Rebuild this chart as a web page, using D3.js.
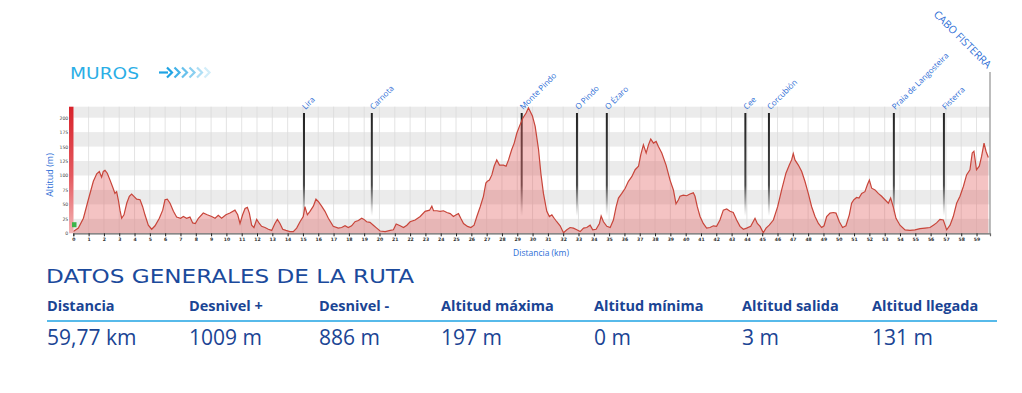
<!DOCTYPE html>
<html><head><meta charset="utf-8">
<script src="https://cdn.jsdelivr.net/npm/d3@7"></script>
<style>html,body{margin:0;padding:0;background:#fff;overflow:hidden}</style>
</head><body>
<svg id="chart" width="1022" height="393"></svg>
<script>
// ---- data ----
const distKm = [0,0.33,0.66,0.98,1.31,1.53,1.7,1.85,1.96,2.07,2.22,2.4,2.57,2.72,2.83,2.94,3.05,3.16,3.31,3.49,3.66,3.81,3.96,4.14,4.36,4.53,4.68,4.9,5.12,5.34,5.62,5.84,5.99,6.14,6.32,6.54,6.75,7.01,7.19,7.4,7.62,7.8,7.97,8.17,8.49,8.75,9.04,9.26,9.47,9.69,9.97,10.23,10.56,10.74,10.89,11.06,11.22,11.37,11.5,11.65,11.8,11.98,12.15,12.3,12.52,12.74,12.96,13.17,13.33,13.5,13.68,13.89,14.15,14.37,14.59,14.81,15.02,15.13,15.29,15.46,15.68,15.85,16.0,16.22,16.44,16.66,16.98,17.31,17.53,17.75,17.96,18.18,18.4,18.62,18.84,18.99,19.16,19.38,19.6,19.82,20.04,20.37,20.7,20.91,21.09,21.35,21.57,21.79,22.0,22.33,22.66,22.98,23.27,23.42,23.53,23.75,23.96,24.18,24.4,24.62,24.83,25.01,25.16,25.31,25.49,25.75,25.97,26.18,26.36,26.58,26.79,26.95,27.05,27.18,27.34,27.49,27.66,27.84,28.1,28.27,28.43,28.64,28.8,28.97,29.14,29.36,29.58,29.73,29.84,29.99,30.17,30.39,30.54,30.71,30.93,31.1,31.26,31.41,31.58,31.8,32.02,32.24,32.45,32.67,32.89,33.11,33.33,33.54,33.76,33.93,34.15,34.37,34.48,34.63,34.85,35.07,35.28,35.46,35.61,35.83,36.05,36.26,36.48,36.7,36.92,37.07,37.24,37.42,37.57,37.72,37.9,38.07,38.22,38.44,38.72,38.98,39.2,39.37,39.53,39.63,39.85,40.07,40.28,40.5,40.61,40.76,40.94,41.15,41.37,41.59,41.81,42.02,42.24,42.46,42.68,42.9,43.11,43.33,43.55,43.77,43.98,44.25,44.53,44.68,44.86,45.07,45.25,45.46,45.73,46.01,46.27,46.55,46.77,46.92,47.03,47.14,47.36,47.58,47.79,48.01,48.23,48.45,48.67,48.88,49.04,49.21,49.43,49.65,49.82,50.04,50.25,50.47,50.69,50.84,50.99,51.17,51.32,51.5,51.71,51.87,52.0,52.15,52.37,52.58,52.8,53.02,53.24,53.39,53.56,53.74,54.0,54.33,54.65,54.98,55.31,55.63,55.96,56.18,56.39,56.61,56.83,57.05,57.27,57.48,57.7,57.92,58.14,58.35,58.57,58.72,58.83,59.0,59.18,59.33,59.49,59.62,59.77];
const altM = [3,9,26,58,90,103,107,97,107,109,104,92,80,69,72,58,40,26,32,52,64,68,64,59,58,46,32,14,7,13,26,40,58,59,52,38,28,26,29,26,28,18,17,26,35,32,29,26,31,26,32,35,40,32,17,32,43,45,35,14,10,24,17,12,10,7,5,17,24,17,7,5,3,3,9,20,29,46,32,38,47,59,55,47,38,26,12,9,10,13,10,13,20,22,26,24,20,19,14,9,4,3,5,6,16,13,10,14,20,23,29,38,40,47,39,39,38,39,36,34,29,32,34,26,17,12,10,14,29,46,64,87,90,92,101,116,127,118,118,116,127,145,156,173,185,199,208,217,211,203,185,145,104,69,38,29,32,26,20,13,1,6,10,9,6,3,9,10,14,6,7,17,30,20,12,10,23,46,61,69,78,90,98,110,116,136,153,139,153,163,156,159,150,139,118,92,75,51,58,64,66,65,68,70,64,46,29,17,9,10,13,12,23,40,42,38,36,23,12,7,9,12,26,17,12,1,9,14,23,46,75,104,118,127,138,127,118,107,90,69,46,29,17,10,13,29,35,36,35,20,10,13,32,52,58,62,61,69,72,84,92,78,75,69,64,58,52,61,46,26,14,6,5,6,8,9,10,14,18,24,23,6,14,29,52,64,81,101,110,139,142,110,116,133,156,142,131];
const placeNames = ["Lira","Carnota","Monte Pindo","O Pindo","O Ézaro","Cee","Corcubión","Praia de Langosteira","Fisterra"];
const placeKm = [15.07,19.5,29.29,32.9,34.85,43.9,45.44,53.6,56.87];
const finishName = "CABO FISTERRA";
const yTicks = [0,25,50,75,100,125,150,175,200];
const xTicks = d3.range(0,60,1);
const statLabels = ["Distancia","Desnivel +","Desnivel -","Altitud máxima","Altitud mínima","Altitud salida","Altitud llegada"];
const statValues = ["59,77 km","1009 m","886 m","197 m","0 m","3 m","131 m"];

// ---- layout ----
const svg = d3.select("#chart");
const pL = 73.3, pR = 990, pT = 106.7, pB = 233.3;
const x = d3.scaleLinear().domain([0, 59.88]).range([pL, pR]);
const y = d3.scaleLinear().domain([0, 219]).range([pB, pT]);
const data = distKm.map((d,i)=>({km:d, alt:altM[i]}));

const defs = svg.append("defs");
const gBar = defs.append("linearGradient").attr("id","redbar").attr("x1",0).attr("y1",0).attr("x2",0).attr("y2",1);
gBar.append("stop").attr("offset","0%").attr("stop-color","#d8222b");
gBar.append("stop").attr("offset","55%").attr("stop-color","#e45a60");
gBar.append("stop").attr("offset","100%").attr("stop-color","#f3b5b5");
const gLine = defs.append("linearGradient").attr("id","mk").attr("gradientUnits","userSpaceOnUse")
  .attr("x1",0).attr("y1",113).attr("x2",0).attr("y2",216);
gLine.append("stop").attr("offset","0%").attr("stop-color","#222").attr("stop-opacity",1);
gLine.append("stop").attr("offset","70%").attr("stop-color","#333").attr("stop-opacity",0.9);
gLine.append("stop").attr("offset","100%").attr("stop-color","#555").attr("stop-opacity",0);

// bands
const bandStarts = [0,50,100,150,200];
svg.append("g").selectAll("rect").data(bandStarts).join("rect")
  .attr("x", pL).attr("width", pR-pL)
  .attr("y", d=>y(Math.min(d+25,219))).attr("height", d=>y(d)-y(Math.min(d+25,219)))
  .attr("fill","#ebebeb");
// vertical grid
svg.append("g").selectAll("line").data(xTicks.slice(1)).join("line")
  .attr("x1",d=>x(d)).attr("x2",d=>x(d)).attr("y1",pT).attr("y2",pB)
  .attr("stroke","#dcdcdc").attr("stroke-width",0.8);

// marker lines (under area)
svg.append("g").selectAll("line").data(placeKm).join("line")
  .attr("x1",d=>x(d)).attr("x2",d=>x(d)).attr("y1",113).attr("y2",216)
  .attr("stroke","url(#mk)").attr("stroke-width",2);

// area + line
const area = d3.area().x(d=>x(d.km)).y0(pB).y1(d=>y(d.alt)).curve(d3.curveLinear);
svg.append("path").datum(data).attr("d",area).attr("fill","rgba(225,90,90,0.36)");
svg.append("path").datum(data).attr("d",d3.line().x(d=>x(d.km)).y(d=>y(d.alt)))
  .attr("fill","none").attr("stroke","#c8453a").attr("stroke-width",1.2);

// finish line
svg.append("line").attr("x1",pR).attr("x2",pR).attr("y1",72).attr("y2",pB)
  .attr("stroke","#9a9a9a").attr("stroke-width",1.3);

// left red bar + start marker
svg.append("rect").attr("x",69).attr("y",pT).attr("width",4.5).attr("height",pB-pT).attr("fill","url(#redbar)");
svg.append("rect").attr("x",72).attr("y",y(14)-3).attr("width",4.5).attr("height",5).attr("fill","#3cb44a");

// x axis
const xAxis = d3.axisBottom(x).tickValues(xTicks).tickSize(3).tickPadding(1).tickFormat(d3.format("d"));
const gx = svg.append("g").attr("transform",`translate(0,${pB})`).call(xAxis);
gx.select(".domain").attr("stroke","#666").attr("stroke-width",1.2);
gx.selectAll(".tick line").attr("stroke","#222");
gx.selectAll("text").attr("font-family","DejaVu Sans").attr("font-size",4.6).attr("font-weight","bold").attr("fill","#333");

// y axis
const yAxis = d3.axisLeft(y).tickValues(yTicks).tickSize(0).tickPadding(5);
const gy = svg.append("g").attr("transform",`translate(${pL},0)`).call(yAxis);
gy.select(".domain").remove();
gy.selectAll("text").attr("font-family","DejaVu Sans").attr("font-size",4.6).attr("fill","#444");

svg.append("text").attr("transform",`translate(53,175) rotate(-90)`).attr("text-anchor","middle")
  .attr("font-family","Open Sans").attr("font-size",9).attr("fill","#2d6ed6").text("Altitud (m)");
svg.append("text").attr("x",541).attr("y",256).attr("text-anchor","middle")
  .attr("font-family","Open Sans").attr("font-size",8.5).attr("fill","#2d6ed6").text("Distancia (km)");

// place labels
svg.append("g").selectAll("text").data(placeNames).join("text")
  .attr("transform",(d,i)=>`translate(${x(placeKm[i])+1.5},110) rotate(-45)`)
  .attr("font-family","Open Sans").attr("font-size",8).attr("fill","#2d6ed6").text(d=>d);
svg.append("text").attr("transform",`translate(987,69) rotate(45)`).attr("text-anchor","end")
  .attr("font-family","Open Sans").attr("font-size",10.5).attr("fill","#2d6ed6").text(finishName);

// title MUROS + arrows
svg.append("text").attr("x",70).attr("y",78.5).attr("font-family","DejaVu Sans").attr("font-size",15.5)
  .attr("fill","#2aaee6").attr("textLength",69).attr("lengthAdjust","spacingAndGlyphs").text("MUROS");
svg.append("line").attr("x1",159).attr("x2",168).attr("y1",72.5).attr("y2",72.5).attr("stroke","#1fa3e3").attr("stroke-width",2.2);
const chev = [0,1,2,3,4,5];
svg.append("g").selectAll("path").data(chev).join("path")
  .attr("d",(d)=>{const cx=167+d*7.5; return `M${cx},67.5 L${cx+5},72.5 L${cx},77.5`;})
  .attr("fill","none").attr("stroke","#1fa3e3").attr("stroke-width",2.2)
  .attr("opacity",d=>1-d*0.16);

// stats block
svg.append("text").attr("x",46).attr("y",282.5).attr("font-family","DejaVu Sans").attr("font-size",19)
  .attr("fill","#1b4a9c").attr("textLength",368).attr("lengthAdjust","spacingAndGlyphs").text("DATOS GENERALES DE LA RUTA");
const colX = [47,189,319,441,594,742,872];
svg.append("g").selectAll("text").data(statLabels).join("text")
  .attr("x",(d,i)=>colX[i]).attr("y",311).attr("font-family","Open Sans").attr("font-weight","bold")
  .attr("font-size",14.5).attr("fill","#1a4494").text(d=>d);
svg.append("line").attr("x1",47).attr("x2",997).attr("y1",321).attr("y2",321).attr("stroke","#1fa3e3").attr("stroke-width",1.3);
svg.append("g").selectAll("text").data(statValues).join("text")
  .attr("x",(d,i)=>colX[i]).attr("y",345).attr("font-family","Open Sans")
  .attr("font-size",21).attr("fill","#1a4494").text(d=>d);
</script>
</body></html>
